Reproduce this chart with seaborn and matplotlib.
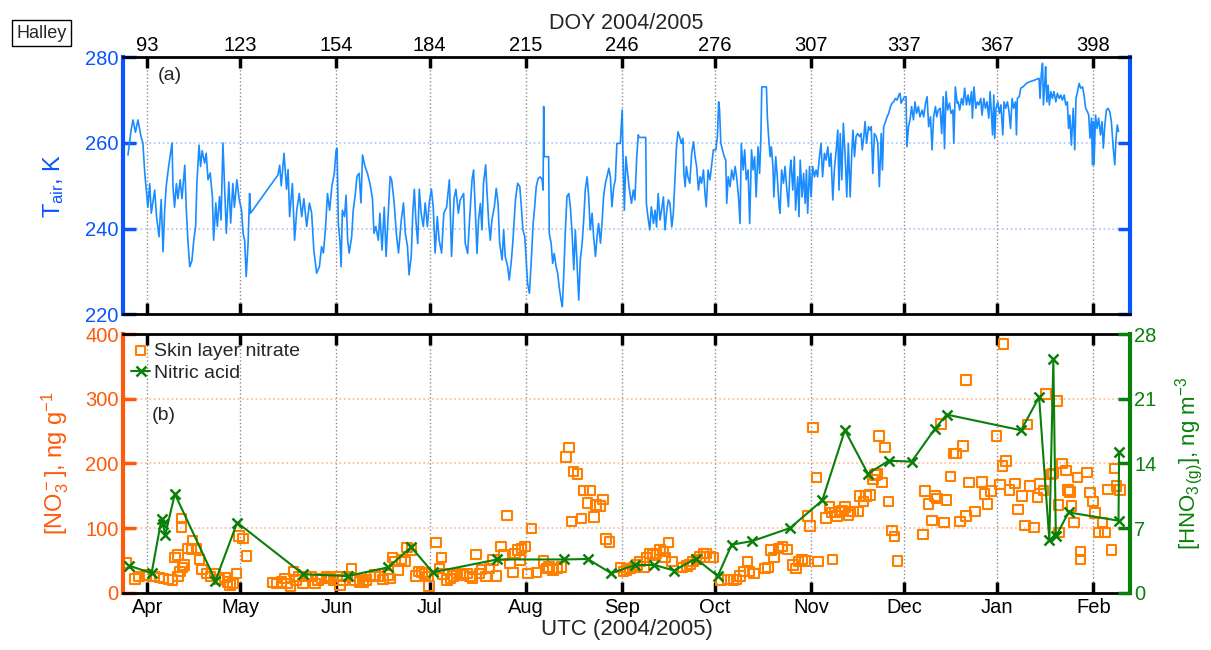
import matplotlib
matplotlib.use('Agg')
import matplotlib.pyplot as plt
import pandas as pd
import seaborn as sns

# month starts on the DOY scale (top labels) and their names (bottom labels)
month_doy = [93, 123, 154, 184, 215, 246, 276, 307, 337, 367, 398]
month_names = ['Apr', 'May', 'Jun', 'Jul', 'Aug', 'Sep', 'Oct', 'Nov', 'Dec', 'Jan', 'Feb']

# air temperature (DOY, K)
tair_pts = [
    (86.8, 257.2), (87.8, 263), (88.4, 265.4), (89.2, 262.5), (90, 265.4), (91, 261.5), (91.6, 260),
    (92.2, 253), (92.7, 249), (93.2, 245), (93.8, 250.5), (94.3, 243.6), (95.4, 249), (96, 242.8),
    (96.8, 238.1), (97.5, 246.8), (98.1, 234.6), (98.6, 244), (99.1, 249.8), (99.9, 254.5), (101, 260),
    (101.3, 249.8), (101.8, 245), (102.4, 250.5), (102.9, 247), (103.6, 251.4), (104.2, 247), (105.1, 254.8),
    (105.6, 244.3), (106.1, 237.3), (106.7, 231.1), (107.4, 232.5), (108, 237.3), (108.6, 240.5), (109, 250.5),
    (109.7, 259.5), (110.2, 254.5), (110.7, 258.2), (111.5, 255.3), (112, 257.6), (112.6, 251.4), (113.3, 253),
    (114, 247.5), (114.4, 237.3), (115.1, 246), (115.6, 240.5), (116.3, 247.5), (116.8, 242), (117.4, 260),
    (117.9, 250.5), (118.5, 238.9), (119.3, 250.9), (119.9, 241.3), (120.6, 250.5), (121.1, 245), (121.9, 251.4),
    (122.6, 247), (123.4, 244.3), (123.9, 238.9), (124.4, 237.3), (124.9, 228.8), (125.5, 236.5), (126, 248.2),
    (126.3, 243.6), (135.1, 252.5), (135.7, 254.8), (136.2, 250), (137.1, 257.6), (137.9, 249.2), (138.4, 253.8),
    (138.9, 242.8), (139.8, 250.5), (140.5, 237.3),
    (141.2, 244.3), (142, 248.2), (142.8, 242.8), (143.5, 247), (144.4, 240.5), (145.3, 246), (146, 243.6),
    (146.7, 235), (147.6, 229.6), (148.5, 231.1), (149.2, 235.8), (149.8, 234.3), (150.5, 240.5), (151.1, 248.2),
    (151.8, 244.3), (152.5, 249.8), (153.3, 252.9), (153.9, 258.4), (154.2, 258.8), (154.6, 241.2), (155.1, 237.3),
    (155.5, 231.1), (155.9, 244.3), (156.6, 242.8), (157.1, 247.8), (157.6, 237.3), (158.1, 234.3), (158.9, 238.1),
    (159.4, 244.3), (160, 247.5), (160.6, 252.2), (161.3, 252.9), (161.9, 246), (162.4, 257.2), (163.2, 254.5),
    (164, 252.9), (164.8, 250.5), (165.6, 247), (166.1, 238.9), (166.7, 240.5), (167.5, 237.3), (168, 243.6),
    (168.7, 235), (169.4, 245), (170, 233.5), (170.8, 245), (171.3, 252.2), (171.8, 251.4), (172.6, 246),
    (173.3, 238.9), (174, 234.3), (174.9, 242), (175.6, 246), (176.2, 238.9), (176.9, 235.8), (177.4, 229.2),
    (178.1, 233.5), (178.6, 243.6), (179.1, 249.2), (179.6, 242), (180.2, 236.5), (180.7, 249.2), (181.3, 243.6),
    (182, 240.5), (182.6, 246), (183.3, 240.5), (183.9, 246), (184.6, 249.2), (185.2, 245), (185.8, 234.3),
    (186.5, 242.8), (187.1, 237.3), (187.9, 234.3), (188.6, 243.6), (189.5, 245), (190.4, 251.4), (191.1, 233.5),
    (191.9, 247), (192.5, 249.2), (193.3, 243.6),
    (193.9, 246.7), (195, 248.2), (195.5, 236.6), (196.3, 234.2), (196.9, 242), (197.7, 251.4), (198.2, 253.7),
    (198.8, 243.6), (199.3, 234.2), (199.8, 242), (200.4, 245.9), (200.9, 239.7), (201.4, 250.6), (202.1, 254.9),
    (202.5, 249), (203.1, 241.2), (203.6, 237.3), (204.1, 242), (204.9, 245.1), (205.5, 249.4), (206.1, 245.9),
    (206.6, 236.6), (207.4, 232.7), (207.9, 239.7), (208.4, 233.5), (209.2, 231.1), (209.7, 228), (210.4, 232.7),
    (210.9, 237.3), (211.7, 246.7), (212.4, 250.6), (213.1, 249.8), (213.6, 245.1), (214.1, 239.7), (214.7, 238.1),
    (215.1, 233.5), (215.6, 227.2), (216.2, 224.9), (216.7, 231.1), (217.4, 241.2), (217.9, 245.1), (218.4, 249.8),
    (219, 251.7), (219.7, 252.1), (220.3, 251.4), (220.6, 249), (220.8, 268.5), (221, 256.8), (222.4, 256.8),
    (222.6, 238.9), (223.2, 236.6), (223.7, 231.9), (224.2, 234.2), (224.8, 231.1), (225.3, 229.6), (225.8, 226.4),
    (226.4, 223.3), (226.8, 221.8), (227.2, 228), (227.8, 239.7), (228.3, 247.5), (228.9, 248.2), (229.4, 245.1),
    (229.9, 239.7), (230.5, 230.4), (231, 239.7), (231.5, 232.7), (232.1, 223.3), (232.6, 232.7), (233.2, 236.6),
    (233.7, 242), (234.2, 249), (234.8, 252.1), (235.3, 247.5), (235.8, 239.7), (236.4, 243.6), (236.9, 238.1),
    (237.5, 233.5), (238, 238.1), (238.5, 241.2), (239.1, 236.6), (239.6, 241.2), (240.1, 247.5), (240.7, 250.6),
    (241.2, 252.1), (241.8, 254.1), (242.3, 252.1), (242.8, 245.1), (243.4, 249.8), (243.9, 251.4), (244.4, 259.9),
    (245.5, 259.9), (246.1, 267.7), (246.3, 259.1), (246.8, 244.3), (247.3, 256.8),
    (248.3, 249.8), (249.1, 245.9), (249.7, 249), (250.2, 246.7), (250.8, 256.8), (251.3, 261.9), (251.5, 261.3),
    (253.7, 261.3), (253.9, 245.9), (254.4, 242.8), (255, 239.7), (255.5, 245.1), (256.2, 241.2), (256.7, 244.3),
    (257.2, 240.4), (257.7, 248.2), (258.3, 242), (258.8, 244.3), (259.4, 247.4), (259.9, 239.7), (260.5, 244.3),
    (261, 246.7), (261.5, 245.9), (262.1, 240.4), (262.6, 243.6), (263, 249.8), (263.6, 259.1), (264.1, 262.6),
    (264.6, 261.5), (265.2, 259.9), (265.7, 261.1), (266, 252.9), (266.4, 249.8), (266.8, 254.5), (267.3, 252.1),
    (267.9, 250.6), (268.5, 257.6), (269.1, 260.3), (269.6, 256.8), (270.1, 254.5), (270.7, 249), (271.2, 252.1),
    (271.7, 250.6), (272.3, 253.7), (272.8, 248.2), (273.2, 245.1), (273.8, 253.7), (274.4, 251.4), (275, 255.2),
    (275.5, 258.4), (276.3, 258.4), (276.8, 261.5), (277.2, 269.6), (277.5, 267.7), (277.9, 259.9), (279, 256.8),
    (279.5, 256), (279.8, 245.9), (280.3, 252.1), (280.9, 249.8), (281.4, 253.7), (282, 251.4), (282.5, 254.5),
    (283, 252.1), (283.6, 247.4), (284.1, 241.2), (284.5, 259.9), (285.1, 253.7), (285.6, 258.4), (286.1, 251.4),
    (286.7, 253.7), (287.2, 241.2), (287.8, 258.4), (288.3, 253.7), (288.8, 256.8), (289.3, 247.4), (289.9, 259.1),
    (290.4, 252.9), (290.8, 260.7), (291.1, 273.1), (292.6, 273.1), (292.9, 266.1), (293.3, 261.5), (293.8, 256.8),
    (294.2, 259.1), (294.7, 254.5), (295, 247.4), (295.6, 256.8), (296.1, 252.1), (296.7, 245.1), (297, 243.6),
    (297.5, 253.7), (298.1, 250.6), (298.6, 254.5), (299.1, 249.8), (299.7, 245.1), (300.2, 253.7),
    (300.5, 256), (301.1, 249), (301.6, 256.8), (302, 244.3), (302.7, 252.1), (303.1, 242.8), (303.5, 256),
    (304.1, 247.4), (304.6, 252.9), (305.1, 245.9), (305.5, 253.7), (305.9, 243.6), (306.5, 254.5), (307, 247.4),
    (307.5, 254.5), (308.1, 252.1), (308.6, 253.7), (309.1, 252.1), (309.7, 256.8), (310.2, 259.9), (310.7, 252.1),
    (311.3, 257.6), (311.8, 256), (312.4, 259.1), (312.9, 254.5), (313.4, 257.6), (314, 246.7), (314.5, 253.7),
    (315.1, 258.4), (315.6, 263), (316, 249), (316.4, 262.2), (316.9, 251.4), (317.4, 264.6), (318, 256.8),
    (318.5, 247.4), (319, 259.9), (319.6, 247.4), (320.1, 257.6), (320.5, 263), (321, 256.8), (321.5, 261.5),
    (322, 262.2), (322.6, 261.5), (323.1, 262.2), (323.5, 258.4), (324, 261.5), (324.4, 265), (324.9, 259.9),
    (325.5, 263.8), (326, 263), (326.4, 263.8), (326.9, 252.9), (327.4, 262.2), (328, 261.5), (328.5, 259.9),
    (329, 249.8), (329.6, 262.2), (330, 253.7), (330.4, 263.8), (331, 265), (331.5, 266.1), (332, 266.9),
    (332.6, 268.5), (333.1, 269.3), (333.6, 269.6), (334.2, 270.4), (334.7, 270), (335.3, 271.2), (335.7, 271.6),
    (336, 269.3), (336.5, 270), (337.1, 270.8), (337.6, 270.8), (337.9, 259.1), (338.4, 263.8), (338.9, 265.4),
    (339.4, 268.5), (340, 265.4), (340.5, 269.6), (341, 266.9), (341.6, 268.5), (342.1, 266.1), (342.8, 267.7),
    (343.3, 266.1), (343.9, 269.3), (344.4, 270.8), (344.9, 263.8), (345.5, 266.1), (346, 258.4), (346.5, 266.1),
    (347.1, 268.5), (347.5, 266.1), (348, 267.7), (348.6, 268.1), (349.1, 262.2), (349.6, 270.8), (350, 258.7),
    (350.5, 272), (351, 267.7), (351.6, 269.3), (352.1, 266.9), (352.7, 267.7), (353, 259.9), (353.5, 273.1),
    (354.1, 269.3),
    (354.4, 269.6), (354.9, 267.7), (355.5, 270.4), (356, 268.9), (356.5, 272.8), (357.1, 268.9), (357.6, 271.2),
    (358.1, 268.9), (358.7, 272), (359, 265.8), (359.5, 273.1), (360.1, 268.1), (360.6, 269.6), (361.1, 268.9),
    (361.7, 270.4), (362.1, 266.5), (362.7, 270.4), (363.2, 268.1), (363.7, 269.6), (364.3, 265.8), (364.7, 272),
    (365.1, 267.3), (365.5, 261.9), (365.9, 271.2), (366.2, 261.1), (366.6, 268.1), (367.2, 269.6), (367.7, 266.9),
    (368.2, 268.9), (368.8, 261.9), (369.2, 269.6), (369.7, 268.1), (370.3, 269.6), (370.8, 267.3), (371.3, 263.4),
    (371.8, 270.4), (372.3, 268.1), (372.9, 269.6), (373.2, 261.9), (373.5, 270.4), (374.1, 270.8), (374.6, 272.8),
    (375.3, 273.1), (376.4, 273.9), (377.5, 274.3), (379.1, 274.7), (380.5, 275.1), (380.8, 270.4), (381.2, 275.9),
    (381.6, 278.6), (381.9, 268.9), (382.3, 273.5), (382.6, 277.8), (383, 269.6), (383.4, 273.5), (383.8, 268.9),
    (384.3, 272), (384.8, 270.4), (385.3, 272), (385.9, 269.6), (386.4, 271.6), (387, 270.4), (387.5, 271.2),
    (388, 270), (388.6, 271.2), (389.1, 268.9), (389.6, 269.6), (390, 263.4), (390.4, 266.5), (390.9, 259.5),
    (391.5, 268.1), (392, 258.4), (392.4, 270.4), (392.9, 272), (393.4, 273.9), (393.9, 272.8), (394.5, 273.1),
    (395, 271.2), (395.5, 268.1), (396.1, 267.3), (396.5, 266.5), (396.9, 261.1), (397.4, 265.8), (397.7, 254.9),
    (398, 265), (398.2, 254.9), (398.7, 266.5), (399.2, 263.4), (399.7, 265.8), (400.3, 261.9), (400.8, 265),
    (401.2, 258.8), (401.7, 264.2), (402.2, 267.7), (402.7, 268.1), (403.3, 267.3), (403.8, 265), (404.4, 258.8),
    (404.9, 254.9), (405.3, 261.1), (405.7, 264.2), (406.1, 262.7),
]

# skin layer nitrate (DOY, ng g-1)
no3_pts = [
    (86.1, 46.4), (89, 21.2), (90.4, 24.8), (92.8, 27.3), (95.1, 24.8), (96.9, 23.7), (98.2, 22.2), (99.8, 20.6),
    (101.2, 19.6), (103, 24.8), (101.9, 54.7), (103, 58.3), (103.5, 32.5), (104.4, 39.2), (104.9, 42.8),
    (104.1, 115), (104.1, 102), (106.2, 68.6), (107.6, 80.5), (107.3, 67), (108.9, 68.6), (109.8, 51.6),
    (110.7, 36.1), (112.1, 29.9), (113.4, 24.8), (114.8, 29.9), (116.1, 20.6), (118, 23.7), (118.9, 17),
    (119.7, 11.9), (120.7, 14.4), (121.8, 29.9), (122.6, 87.7), (123.9, 84.1), (125, 56.8), (133.6, 15.5),
    (134.9, 14.4), (136.3, 17), (137.4, 22.2), (138.1, 14.4), (139.2, 9.3), (140.1, 32.5), (140.9, 19.6),
    (141.9, 24.8), (143.3, 14.4), (144.4, 24.8), (146, 24.8), (147.1, 14.4), (148.1, 19.6), (149.2, 22.2),
    (150.8, 24.8), (151.9, 22.2), (153, 19.6), (154.3, 24.8), (155.1, 11.9), (156.2, 19.6), (157.3, 24.8),
    (158.9, 37.7), (160, 19.6), (161.4, 17), (162.6, 17), (163.7, 19.6), (165, 24.8), (166.4, 27.3), (168, 24.8),
    (169.1, 20.6), (170.7, 27.3), (171.2, 22.2), (172.1, 54.7), (172.8, 48), (173.9, 35.1), (175, 51.6),
    (176.1, 48), (176.8, 70.2), (178.2, 66), (179.6, 25.8), (180.7, 32.5),
    (181.5, 31), (182.5, 28.9), (183.9, 10.8), (183.6, 24.8), (186.1, 77.4), (187.9, 54.2), (187.2, 37.7),
    (188.4, 28.9), (189.7, 19.6), (190.8, 22.2), (191.7, 25.8), (192.7, 29.9), (194, 28.9), (194.9, 27.3),
    (196, 29.9), (197, 24.8), (197.9, 22.2), (199, 59.3), (200.1, 29.9), (200.8, 36.1), (202.2, 24.8),
    (203.3, 37.7), (204.4, 50.6), (205.6, 25.8), (207, 71.2), (207.8, 58.3), (208.9, 119.7), (210, 45.4),
    (211, 31.5), (211.5, 60.9), (212.6, 66), (213.7, 68.6), (214.8, 71.2), (213.2, 50.6), (215.8, 29.9),
    (216.9, 99.6), (218.5, 31.5), (220.7, 49.5), (221.8, 37.7), (222.6, 40.2), (223.9, 35.1), (225, 37.7),
    (226.6, 40.2), (227.9, 210.5), (229, 225), (230.4, 187.3), (231.7, 183.7), (229.8, 109.9), (233, 115),
    (233.6, 157.9), (235.7, 157.9), (234.9, 139.3), (237.1, 117.6), (237.7, 135.7), (239, 134.2), (240, 144.5),
    (240.8, 83.1), (242, 78.9), (245.6, 39.2), (246.5, 32.5), (247.5, 35.1), (248.6, 37.7), (249.7, 39.2),
    (250.8, 42.8), (251.8, 48), (253.1, 40.2), (254, 54.7), (255.1, 60.9), (256.1, 58.3), (257.2, 60.9),
    (258.3, 66), (259.4, 63.5), (259.9, 54.7), (261, 77.4), (262.1, 48), (265.6, 39.2), (266.9, 41.3),
    (268, 43.9), (269, 48), (270.1, 51.6), (271.2, 55.7), (272.3, 60.9), (273.3, 60.9), (274.4, 55.7),
    (275.5, 54.7), (277.9, 19.6), (280.3, 20.6), (282, 19.6), (283, 20.6), (284.1, 25.8), (285.2, 32.5),
    (286.5, 48), (287.1, 32.5), (288.6, 29.9), (292.2, 37.7), (293.2, 39.2), (294, 66), (295.1, 54.7),
    (296.5, 68.6), (297.8, 71.2), (299.4, 67), (301.1, 42.8), (302.2, 37.7), (302.9, 48), (304, 51.6),
    (305, 49.5), (305.8, 118.7), (306.7, 103.2), (307.7, 255.9), (308.8, 178.5), (309.3, 48),
    (313.9, 51.6), (311.8, 116), (312.9, 133), (313.6, 124), (314.7, 124), (315.3, 118.7), (316.1, 125.4),
    (316.9, 127), (317.9, 133), (319, 120), (319.6, 125.4), (320.6, 125.4), (322.2, 125.4), (322.6, 149.6),
    (323.9, 140.9), (324.7, 149.6), (326, 151.2), (326.9, 175.4), (327.6, 182.1), (328.2, 183.7), (328.9, 242.5),
    (329.8, 170.3), (330.8, 225), (331.9, 140.9), (333, 96), (333.9, 86.7), (334.8, 49.5), (343, 90.3),
    (343.8, 157.4), (344.8, 137.3), (345.9, 111.5), (346.9, 149.6), (347.5, 146), (348.8, 261), (349.9, 108.4),
    (350.7, 143.4), (352, 179.6), (352.9, 215.7), (353.7, 215.7), (355, 110), (355.9, 227), (356.9, 118.7),
    (358, 170.3), (359.9, 125.4), (362, 171.8), (362.9, 152.7), (363.9, 137.3), (365, 157.4), (356.9, 329),
    (366.8, 242.5), (367.9, 167.7), (368.7, 196), (369.8, 204.3), (369, 385), (370.9, 159), (372.8, 169.2),
    (373.8, 129), (374.9, 150), (376, 103.7), (376.8, 260.6), (377.6, 165), (378.9, 101), (380, 147.6),
    (380.8, 168.2), (381.9, 157.9), (382.8, 307.5), (384.3, 183.2), (384.9, 184.7), (386.2, 297.2),
    (386.7, 135.7), (387, 93.4), (387.8, 200.2), (389.1, 188.9), (389.9, 159), (390.5, 156.3), (391, 134.2),
    (391.8, 108.4), (392.9, 178.5), (393.9, 63.5), (393.9, 51.6), (395.9, 186.3), (396.9, 154.8), (397.8, 140.9),
    (398.5, 123.8), (399.6, 93.4), (400.9, 108.4), (401.8, 93.4), (402.8, 160), (403.9, 66), (404.8, 192.5),
    (405.5, 165.6), (406.6, 159),
]

# gaseous nitric acid (DOY, ng m-3)
hno3_pts = [
    (87.2, 2.93), (94.4, 2.1), (97.6, 8.0), (98.1, 7.4), (98.8, 6.25), (101.9, 10.7), (115, 1.3), (122, 7.6),
    (143.3, 2.0), (157.6, 1.8), (170.7, 2.75), (178.1, 4.95), (185, 2.2), (205.8, 3.6), (227.5, 3.6),
    (235, 3.65), (242.6, 2.1), (250.2, 3.0), (256.5, 3.0), (262.9, 2.4), (269.8, 3.7), (276.9, 1.8),
    (281.4, 5.2), (288.1, 5.6), (300.2, 7.0), (310.6, 10.0), (317.9, 17.6), (325.3, 12.9), (332.1, 14.3),
    (339.4, 14.2), (346.8, 17.7), (350.7, 19.3), (374.7, 17.6), (380.5, 21.2), (383.8, 5.7), (385.1, 25.3),
    (385.9, 6.1), (390, 8.7), (406.1, 7.8), (406.3, 15.2),
]

tair = pd.DataFrame(tair_pts, columns=['doy', 'T'])
no3 = pd.DataFrame(no3_pts, columns=['doy', 'no3'])
hno3 = pd.DataFrame(hno3_pts, columns=['doy', 'hno3'])

blue_line = '#1a8cff'
blue_axis = '#0a55ff'
orange_pts = '#ff8000'
orange_axis = '#ff5a0a'
green = '#0a800a'

sns.set_theme(style='white')
plt.rcParams['font.family'] = ['Liberation Sans', 'DejaVu Sans']
plt.rcParams['mathtext.fontset'] = 'custom'
plt.rcParams['mathtext.rm'] = 'Liberation Sans'
plt.rcParams['mathtext.it'] = 'Liberation Sans:italic'
plt.rcParams['mathtext.default'] = 'regular'

fig = plt.figure(figsize=(12.11, 6.5), dpi=100)
ax_a = fig.add_axes([0.1016, 0.5165, 0.8315, 0.3953])
ax_b = fig.add_axes([0.1016, 0.0882, 0.8315, 0.3975])

xlim = (85.2, 409.8)

# (a) air temperature
sns.lineplot(data=tair, x='doy', y='T', ax=ax_a, color=blue_line, lw=1.2,
             estimator=None, sort=False)
ax_a.set_xlim(xlim)
ax_a.set_ylim(220, 280)
ax_a.set_yticks([220, 240, 260, 280])
ax_a.set_xticks(month_doy)
ax_a.set_xticklabels([str(d) for d in month_doy])
ax_a.xaxis.set_label_position('top')
ax_a.set_xlabel('DOY 2004/2005', fontsize=15.5, labelpad=5)
ax_a.set_ylabel('T$_{air}$, K', color=blue_axis, fontsize=17, labelpad=14)
ax_a.tick_params(axis='x', top=True, bottom=True, labeltop=True, labelbottom=False,
                 direction='in', length=8, width=2.5, colors='black', labelsize=14.5, pad=2)
ax_a.tick_params(axis='y', left=True, right=True, direction='in', length=9, width=2.5,
                 colors=blue_axis, labelsize=14.5, pad=3)
ax_a.grid(axis='x', ls=':', color='0.55', lw=1)
ax_a.grid(axis='y', ls=':', color='#a9c6ff', lw=1.2)
for s in ['top', 'bottom']:
    ax_a.spines[s].set_color('black')
    ax_a.spines[s].set_linewidth(2)
for s in ['left', 'right']:
    ax_a.spines[s].set_color(blue_axis)
    ax_a.spines[s].set_linewidth(3)
ax_a.text(0.034, 0.93, '(a)', transform=ax_a.transAxes, fontsize=14, va='center')

# (b) skin layer nitrate and nitric acid
sns.scatterplot(data=no3, x='doy', y='no3', ax=ax_b, marker='s', s=48, facecolor='none',
                edgecolor=orange_pts, linewidth=1.5, label='Skin layer nitrate', legend=False)
ax_b2 = ax_b.twinx()
sns.lineplot(data=hno3, x='doy', y='hno3', ax=ax_b2, color=green, lw=1.5, marker='x',
             markersize=7, markeredgewidth=1.8, markeredgecolor=green,
             label='Nitric acid', legend=False, estimator=None, sort=False)

ax_b.set_xlim(xlim)
ax_b2.set_xlim(xlim)
ax_b.set_ylim(0, 400)
ax_b.set_yticks([0, 100, 200, 300, 400])
ax_b2.set_ylim(0, 28)
ax_b2.set_yticks([0, 7, 14, 21, 28])
ax_b.set_xticks(month_doy)
ax_b.set_xticklabels(month_names)
ax_b.set_xlabel('UTC (2004/2005)', fontsize=16, labelpad=1)
ax_b.set_ylabel('[NO$_3^-$], ng g$^{-1}$', color=orange_axis, fontsize=17, labelpad=10)
ax_b2.set_ylabel('[HNO$_{3\\,(g)}$], ng m$^{-3}$', color=green, fontsize=16, labelpad=12)
ax_b.tick_params(axis='x', top=True, bottom=True, direction='in', length=8, width=2.5,
                 colors='black', labelsize=14.5, pad=4)
ax_b.tick_params(axis='y', left=True, right=False, direction='in', length=9, width=2.5,
                 colors=orange_axis, labelsize=14.5, pad=3)
ax_b2.tick_params(axis='y', right=True, direction='in', length=9, width=2.5,
                  colors=green, labelsize=14.5, pad=3)
ax_b.grid(axis='x', ls=':', color='0.55', lw=1)
ax_b.grid(axis='y', ls=':', color='#ffb890', lw=1.2)
for s in ['top', 'bottom']:
    ax_b.spines[s].set_color('black')
    ax_b.spines[s].set_linewidth(2)
    ax_b2.spines[s].set_visible(False)
ax_b.spines['left'].set_color(orange_axis)
ax_b.spines['left'].set_linewidth(3)
ax_b.spines['right'].set_visible(False)
ax_b2.spines['left'].set_visible(False)
ax_b2.spines['right'].set_color(green)
ax_b2.spines['right'].set_linewidth(3)
ax_b.text(0.029, 0.684, '(b)', transform=ax_b.transAxes, fontsize=14, va='center')

h1, l1 = ax_b.get_legend_handles_labels()
h2, l2 = ax_b2.get_legend_handles_labels()
ax_b2.legend(h1 + h2, l1 + l2, loc='upper left', frameon=False, fontsize=14,
             handlelength=1.0, handletextpad=0.2, borderaxespad=0.25, borderpad=0.15,
             labelspacing=0.25)

fig.text(0.034, 0.949, 'Halley', ha='center', va='center', fontsize=13,
         bbox=dict(boxstyle='square,pad=0.25', fc='white', ec='black', lw=1))

fig.savefig('out.png', dpi=100)
